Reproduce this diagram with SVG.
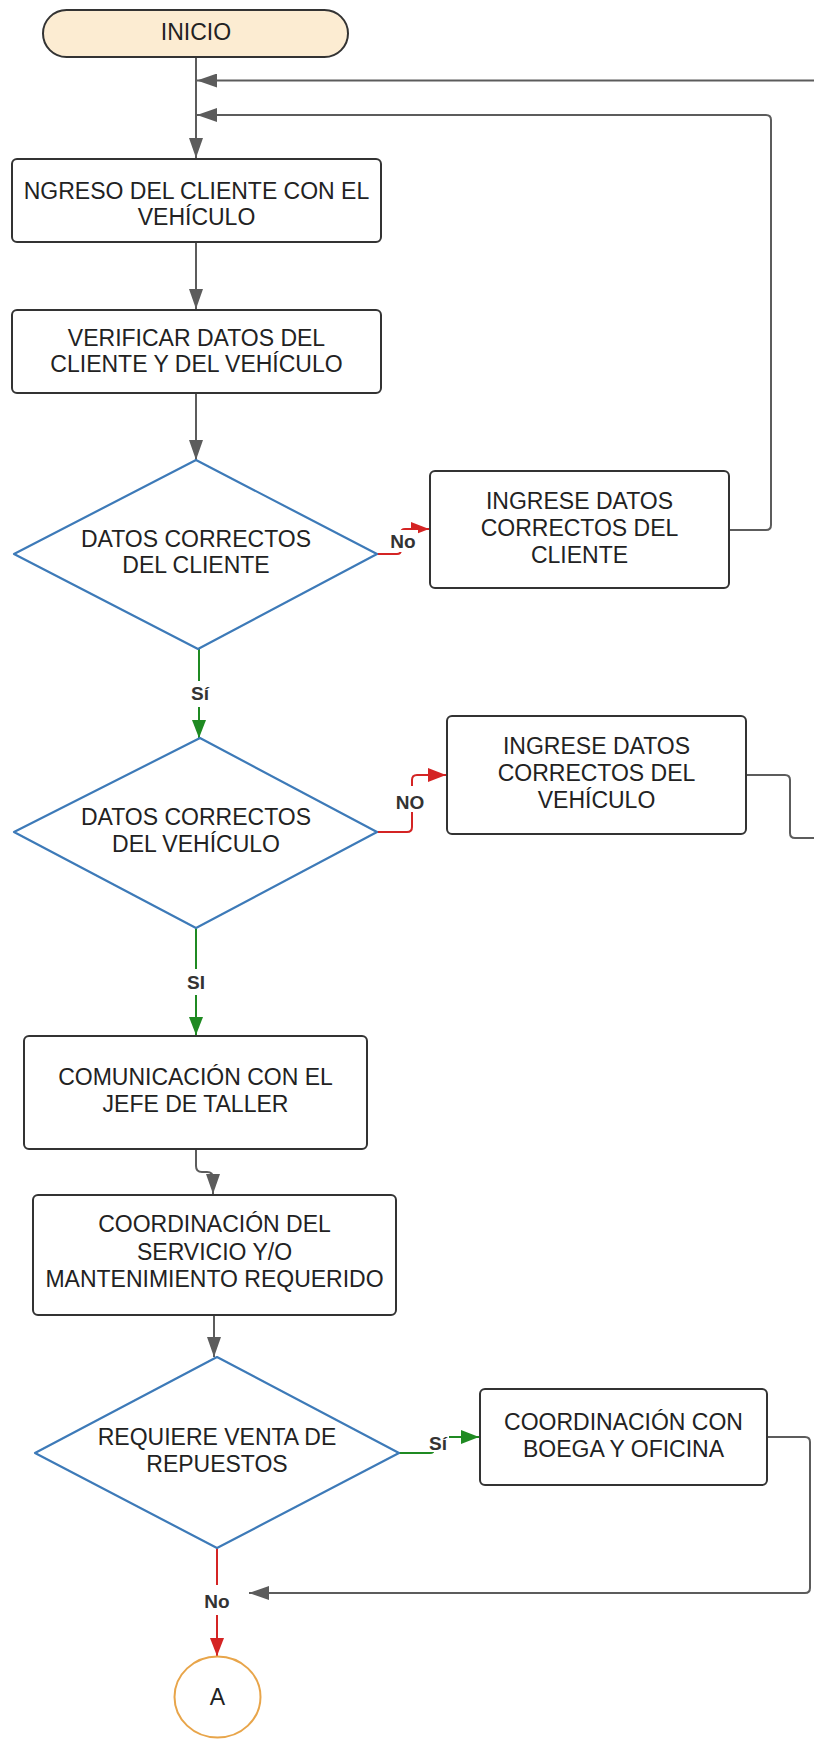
<svg xmlns="http://www.w3.org/2000/svg" width="814" height="1739" viewBox="0 0 814 1739">
  <style>
    .txt { font-family: "Liberation Sans", Arial, sans-serif; font-size: 23px; fill: #222; text-anchor: middle; }
    .lbl { font-family: "Liberation Sans", Arial, sans-serif; font-size: 19px; font-weight: bold; fill: #333; text-anchor: middle; }
    .box { fill: #fff; stroke: #333; stroke-width: 2; }
    .dec { fill: #fff; stroke: #3d7ab8; stroke-width: 2.2; stroke-linejoin: round; }
    .c-grey { fill: none; stroke: #5c5c5c; stroke-width: 2; }
    .c-red { fill: none; stroke: #d42424; stroke-width: 2; }
    .c-green { fill: none; stroke: #1f8a22; stroke-width: 2; }
    .mask { fill: #fff; }
  </style>
  <defs>
    <marker id="ah-grey" markerUnits="userSpaceOnUse" viewBox="0 0 20 14" refX="20" refY="7" markerWidth="20" markerHeight="14" orient="auto">
      <path d="M0,0 L20,7 L0,14 Z" fill="#5c5c5c"/>
    </marker>
    <marker id="ah-red" markerUnits="userSpaceOnUse" viewBox="0 0 18 14" refX="18" refY="7" markerWidth="18" markerHeight="14" orient="auto">
      <path d="M0,0 L18,7 L0,14 Z" fill="#d42424"/>
    </marker>
    <marker id="ah-green" markerUnits="userSpaceOnUse" viewBox="0 0 18 14" refX="18" refY="7" markerWidth="18" markerHeight="14" orient="auto">
      <path d="M0,0 L18,7 L0,14 Z" fill="#1f8a22"/>
    </marker>
  </defs>

  <rect width="814" height="1739" fill="#fff"/>

  <!-- connectors -->
  <g id="connectors">
    <path class="c-grey" d="M196,57 V158" marker-end="url(#ah-grey)"/>
    <path class="c-grey" d="M814,80.5 H197" marker-end="url(#ah-grey)"/>
    <path class="c-grey" d="M729,530 H766 Q771,530 771,525 V120 Q771,115 766,115 H197" marker-end="url(#ah-grey)"/>
    <path class="c-grey" d="M196,242 V309" marker-end="url(#ah-grey)"/>
    <path class="c-grey" d="M196,393 V460" marker-end="url(#ah-grey)"/>
    <path class="c-red" d="M377,554 H397 Q401,554 401,550 V533 Q401,529 405,529 H429" marker-end="url(#ah-red)"/>
    <path class="c-green" d="M199,649 V738" marker-end="url(#ah-green)"/>
    <path class="c-red" d="M377,832 H407 Q412,832 412,827 V780 Q412,775 417,775 H446" marker-end="url(#ah-red)"/>
    <path class="c-grey" d="M746,775 H785 Q790,775 790,780 V833 Q790,838 795,838 H814"/>
    <path class="c-green" d="M196,928 V1035" marker-end="url(#ah-green)"/>
    <path class="c-grey" d="M196,1149 V1166 Q196,1172 202,1172 H207 Q213,1172 213,1178 V1194" marker-end="url(#ah-grey)"/>
    <path class="c-grey" d="M214,1315 V1357" marker-end="url(#ah-grey)"/>
    <path class="c-green" d="M399,1453 H430 Q434,1453 434,1449 V1441 Q434,1437 438,1437 H479" marker-end="url(#ah-green)"/>
    <path class="c-grey" d="M767,1437 H805 Q810,1437 810,1442 V1588 Q810,1593 805,1593 H249" marker-end="url(#ah-grey)"/>
    <path class="c-red" d="M217,1548 V1656" marker-end="url(#ah-red)"/>

    <!-- connector labels -->
    <rect class="mask" x="388" y="530" width="30" height="22"/>
    <text class="lbl" x="403" y="548">No</text>
    <rect class="mask" x="186" y="681" width="28" height="26"/>
    <text class="lbl" x="200" y="700">Sí</text>
    <rect class="mask" x="393" y="786" width="34" height="26"/>
    <text class="lbl" x="410" y="809">NO</text>
    <rect class="mask" x="183" y="969" width="26" height="26"/>
    <text class="lbl" x="196" y="989">SI</text>
    <rect class="mask" x="426" y="1431" width="23" height="21"/>
    <text class="lbl" x="438" y="1450">Sí</text>
    <rect class="mask" x="202" y="1585" width="30" height="30"/>
    <text class="lbl" x="217" y="1608">No</text>
  </g>

  <g id="n-inicio">
    <rect x="43" y="10" width="305" height="47" rx="23.5" fill="#fcecd2" stroke="#333" stroke-width="2"/>
    <text class="txt" x="196" y="40">INICIO</text>
  </g>

  <g id="n-ingreso">
    <rect class="box" x="12" y="159" width="369" height="83" rx="5"/>
    <text class="txt" x="196.5" y="199">NGRESO DEL CLIENTE CON EL</text>
    <text class="txt" x="196.5" y="225">VEHÍCULO</text>
  </g>

  <g id="n-verificar">
    <rect class="box" x="12" y="310" width="369" height="83" rx="5"/>
    <text class="txt" x="196.5" y="346">VERIFICAR DATOS DEL</text>
    <text class="txt" x="196.5" y="372">CLIENTE Y DEL VEHÍCULO</text>
  </g>

  <g id="d-cliente">
    <polygon class="dec" points="196,460 377,554 198,649 14,554"/>
    <text class="txt" x="196" y="547">DATOS CORRECTOS</text>
    <text class="txt" x="196" y="573">DEL CLIENTE</text>
  </g>

  <g id="n-cliente">
    <rect class="box" x="430" y="471" width="299" height="117" rx="5"/>
    <text class="txt" x="579.5" y="509">INGRESE DATOS</text>
    <text class="txt" x="579.5" y="536">CORRECTOS DEL</text>
    <text class="txt" x="579.5" y="563">CLIENTE</text>
  </g>

  <g id="d-vehiculo">
    <polygon class="dec" points="200,738 377,832 196,928 14,832"/>
    <text class="txt" x="196" y="825">DATOS CORRECTOS</text>
    <text class="txt" x="196" y="852">DEL VEHÍCULO</text>
  </g>

  <g id="n-vehiculo">
    <rect class="box" x="447" y="716" width="299" height="118" rx="5"/>
    <text class="txt" x="596.5" y="754">INGRESE DATOS</text>
    <text class="txt" x="596.5" y="781">CORRECTOS DEL</text>
    <text class="txt" x="596.5" y="808">VEHÍCULO</text>
  </g>

  <g id="n-comunicacion">
    <rect class="box" x="24" y="1036" width="343" height="113" rx="5"/>
    <text class="txt" x="195.5" y="1085">COMUNICACIÓN CON EL</text>
    <text class="txt" x="195.5" y="1112">JEFE DE TALLER</text>
  </g>

  <g id="n-coordinacion">
    <rect class="box" x="33" y="1195" width="363" height="120" rx="5"/>
    <text class="txt" x="214.5" y="1232">COORDINACIÓN DEL</text>
    <text class="txt" x="214.5" y="1260">SERVICIO Y/O</text>
    <text class="txt" x="214.5" y="1287">MANTENIMIENTO REQUERIDO</text>
  </g>

  <g id="d-repuestos">
    <polygon class="dec" points="217,1357 399,1453 217,1548 35,1453"/>
    <text class="txt" x="217" y="1445">REQUIERE VENTA DE</text>
    <text class="txt" x="217" y="1472">REPUESTOS</text>
  </g>

  <g id="n-bodega">
    <rect class="box" x="480" y="1389" width="287" height="96" rx="5"/>
    <text class="txt" x="623.5" y="1430">COORDINACIÓN CON</text>
    <text class="txt" x="623.5" y="1457">BOEGA Y OFICINA</text>
  </g>

  <g id="c-a">
    <ellipse cx="217.5" cy="1697" rx="43" ry="40.5" fill="#fff" stroke="#e8a54a" stroke-width="2"/>
    <text class="txt" x="217.5" y="1705">A</text>
  </g>
</svg>
